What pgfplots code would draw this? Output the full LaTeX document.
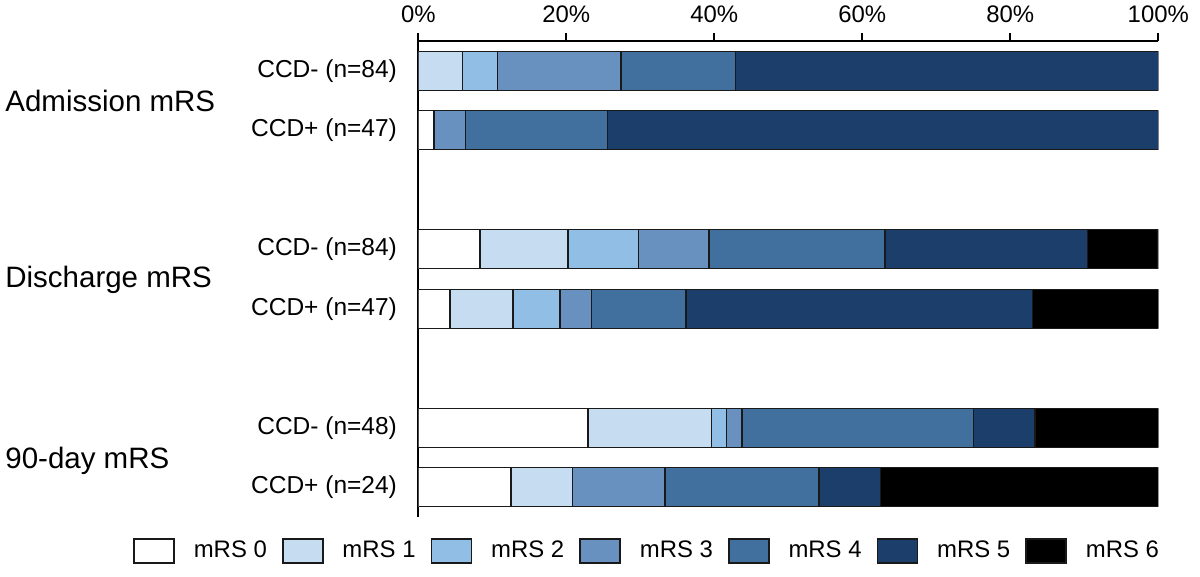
\documentclass[border=0pt]{standalone}
\usepackage{pgfplots}
\pgfplotsset{compat=1.18}
\usepackage{fontspec}
\setmainfont{Liberation Sans}

\definecolor{mrsA}{RGB}{255,255,255}
\definecolor{mrsB}{RGB}{198,220,241}
\definecolor{mrsC}{RGB}{145,190,228}
\definecolor{mrsD}{RGB}{104,145,192}
\definecolor{mrsE}{RGB}{65,112,159}
\definecolor{mrsF}{RGB}{28,62,106}
\definecolor{mrsG}{RGB}{0,0,0}

\begin{document}
\begin{tikzpicture}
  \useasboundingbox (0,0) rectangle (600bp,288.5bp);
  \begin{axis}[
    at={(209.15bp,30bp)}, anchor=south west,
    scale only axis,
    width=370bp, height=238bp,
    xbar stacked,
    bar width=19.5bp,
    xmin=0, xmax=100,
    ymin=-0.5, ymax=7.5,
    y dir=reverse,
    axis x line*=top,
    axis y line*=left,
    axis line style={line width=1bp,-},
    xtick={0,20,...,100},
    xticklabels={0\%,20\%,40\%,60\%,80\%,100\%},
    ytick={0,1,3,4,6,7},
    yticklabels={CCD- (n=84),CCD+ (n=47),CCD- (n=84),CCD+ (n=47),CCD- (n=48),CCD+ (n=24)},
    tick align=outside,
    major tick length=4bp,
    x tick style={line width=1bp,black},
    y tick style={draw=none},
    xticklabel style={font=\fontsize{12}{14}\selectfont, inner sep=0pt, yshift=5bp},
    yticklabel style={font=\fontsize{12.3}{14}\selectfont, inner sep=0pt, xshift=-6.5bp},
    every axis plot/.append style={draw=black!90, line width=0.7bp},
    legend columns=7,
    legend style={
      draw=none, fill=none, inner sep=0pt,
      at={(-0.3855,-0.0714)}, anchor=west,
      font=\fontsize{12}{14}\selectfont,
      nodes={inner sep=0pt},
      /tikz/every odd column/.append style={column sep=9.5bp},
      /tikz/every even column/.append style={column sep=7.6bp}},
    legend image code/.code={\draw[#1] (0bp,-6bp) rectangle (20bp,6bp);},
  ]
    % mRS 0
    \addplot[fill=mrsA] coordinates {(0,0) (2.13,1) (8.33,3) (4.26,4) (22.92,6) (12.50,7)};
    % mRS 1
    \addplot[fill=mrsB] coordinates {(5.95,0) (0,1) (11.90,3) (8.51,4) (16.67,6) (8.33,7)};
    % mRS 2
    \addplot[fill=mrsC] coordinates {(4.76,0) (0,1) (9.52,3) (6.38,4) (2.08,6) (0,7)};
    % mRS 3
    \addplot[fill=mrsD] coordinates {(16.67,0) (4.26,1) (9.52,3) (4.26,4) (2.08,6) (12.50,7)};
    % mRS 4
    \addplot[fill=mrsE] coordinates {(15.48,0) (19.15,1) (23.81,3) (12.77,4) (31.25,6) (20.83,7)};
    % mRS 5
    \addplot[fill=mrsF] coordinates {(57.14,0) (74.47,1) (27.38,3) (46.81,4) (8.33,6) (8.33,7)};
    % mRS 6
    \addplot[fill=mrsG] coordinates {(0,0) (0,1) (9.52,3) (17.02,4) (16.67,6) (37.50,7)};
    \legend{mRS 0,mRS 1,mRS 2,mRS 3,mRS 4,mRS 5,mRS 6}
  \end{axis}
  \begin{scope}[every node/.style={anchor=west, inner sep=0pt, font=\fontsize{14.8}{17}\selectfont}]
    \node at (2.5bp,238bp) {Admission mRS};
    \node at (2.5bp,148.5bp) {Discharge mRS};
    \node at (2.5bp,58bp) {90-day mRS};
  \end{scope}
\end{tikzpicture}
\end{document}
